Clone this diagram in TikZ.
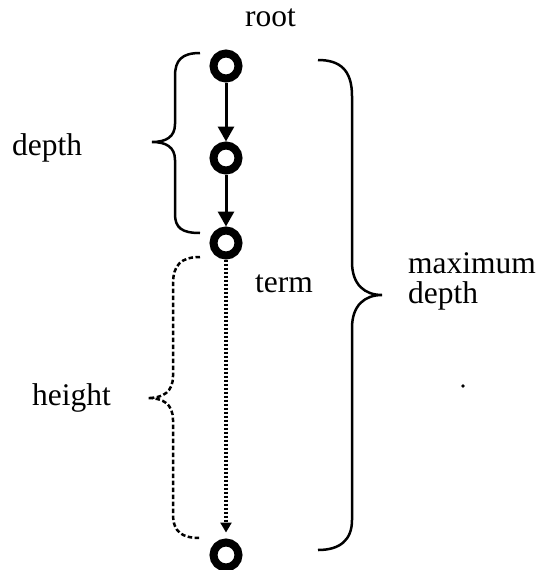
\documentclass[tikz,border=0pt]{standalone}
\usepackage{fontspec}
\setmainfont{Liberation Serif}
\usetikzlibrary{arrows.meta}
\begin{document}
\begin{tikzpicture}[x=1pt,y=-1pt,
  vertex/.style={circle,draw,line width=8pt,minimum size=25pt,inner sep=0pt},
  label/.style={anchor=base west,inner sep=0pt,font=\fontsize{31.5}{30}\selectfont},
  treearrow/.style={line width=3pt,-{Triangle[length=15pt,width=16pt]}},
  pendarrow/.style={line width=3.5pt,dash pattern=on 2.5pt off 1.5pt,-{Triangle[length=10pt,width=11pt]},shorten >=6pt},
  bracket/.style={line width=2.5pt},
  dashbracket/.style={line width=2.5pt,dash pattern=on 4.5pt off 2.5pt}]
\useasboundingbox (0,0) rectangle (537,570);

% vertices along the path
\node[vertex] (root) at (226,66) {};
\node[vertex] (mid)  at (226,158) {};
\node[vertex] (term) at (226,243) {};
\node[vertex] (leaf) at (226,555) {};

\draw[treearrow] (root) -- (mid);
\draw[treearrow] (mid) -- (term);
\draw[pendarrow] (term) -- (leaf);

% labels
\node[label] (lroot)   at (245,27)  {root};
\node[label] (ldepth)  at (12,155)  {depth};
\node[label] (lterm)   at (255,292) {term};
\node[label] (lheight) at (32,405)  {height};
\node[label,align=left] (lmax) at (408,303) {maximum\\depth};
\fill (463,386) circle (1.8);

% brace for depth
\draw[bracket] (200,53) .. controls (182,53) and (175,60) .. (175,76)
  -- (175,124) .. controls (175,137) and (166,142) .. (152,142)
  .. controls (166,142) and (175,147) .. (175,160)
  -- (175,214) .. controls (175,228) and (182,233) .. (200,233);

% dashed brace for height
\draw[dashbracket] (200,257) .. controls (181,257) and (173,265) .. (173,284)
  -- (173,376) .. controls (173,392) and (163,398) .. (148,398)
  .. controls (163,398) and (173,404) .. (173,420)
  -- (173,514) .. controls (173,532) and (182,538) .. (200,538);

% brace for maximum depth
\draw[bracket] (318,60) .. controls (340,60) and (352,70) .. (352,96)
  -- (352,262) .. controls (352,285) and (365,295) .. (382,295)
  .. controls (365,295) and (352,305) .. (352,328)
  -- (352,520) .. controls (352,540) and (340,550) .. (318,550);
\end{tikzpicture}
\end{document}
